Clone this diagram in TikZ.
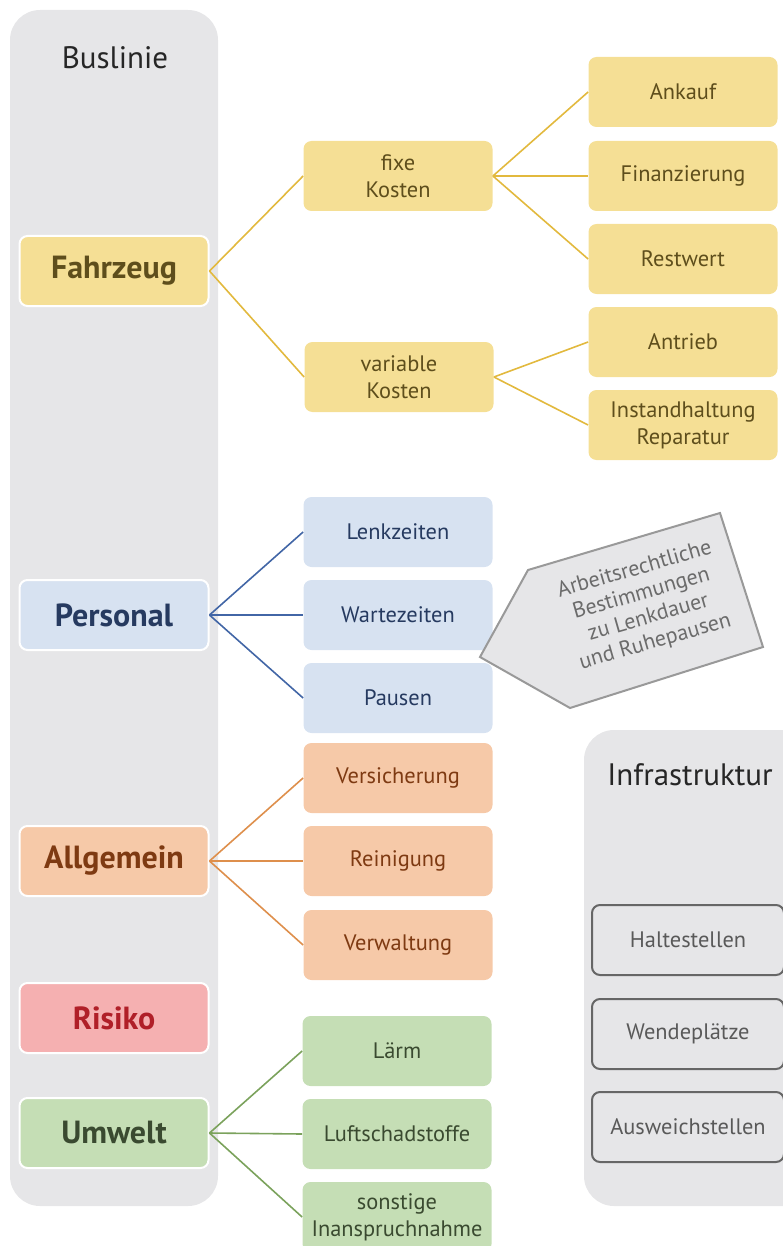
\documentclass[tikz,border=0pt]{standalone}
\usepackage{fontspec}
\setmainfont{PT Sans}
\definecolor{panel}{HTML}{E6E6E8}
\definecolor{ylwF}{HTML}{F5DF95}
\definecolor{ylwL}{HTML}{E2B93E}
\definecolor{ylwT}{HTML}{5E4E1C}
\definecolor{bluF}{HTML}{D7E2F1}
\definecolor{bluL}{HTML}{4266A6}
\definecolor{bluT}{HTML}{263A60}
\definecolor{orgF}{HTML}{F6C9A8}
\definecolor{orgL}{HTML}{DE8F4C}
\definecolor{orgT}{HTML}{7E3A12}
\definecolor{redF}{HTML}{F5B0B1}
\definecolor{redT}{HTML}{B01F28}
\definecolor{grnF}{HTML}{C5DEB5}
\definecolor{grnL}{HTML}{7BA25C}
\definecolor{grnT}{HTML}{3A4A30}
\tikzset{ box/.style = { rectangle
                       , rounded corners = 4pt
                       , minimum width   = 94.5pt
                       , minimum height  = 35pt
                       , inner sep       = 1pt
                       , align           = center
                       , font            = \fontsize{11.2}{13.5}\selectfont
                       },
          head/.style = { box
                        , draw       = white
                        , line width = 1pt
                        , font       = \bfseries\fontsize{16}{18}\selectfont
                        },
          infra/.style = { box
                         , minimum width = 96pt
                         , draw          = black!60
                         , line width    = 1pt
                         , fill          = panel
                         , text          = black!65
                         }
        }

\begin{document}
\begin{tikzpicture}[x=0.5pt, y=-0.5pt]
    \useasboundingbox (0,0) rectangle (782,1246);
    % panels
    \fill[panel, rounded corners=15pt] (10,10) rectangle (218,1206);
    \fill[panel, rounded corners=15pt] (584,730) rectangle (820,1206);
    \node[font=\fontsize{15.5}{17}\selectfont, text=black!85] (bl) at (115,58) {Buslinie};
    \node[font=\fontsize{15.5}{17}\selectfont, text=black!85] (ifr) at (690,775) {Infrastruktur};

    % Fahrzeug
    \node[head, fill=ylwF, text=ylwT] (fz) at (114,271) {Fahrzeug};
    \node[box, fill=ylwF, text=ylwT] (fk) at (398,176) {fixe\\Kosten};
    \node[box, fill=ylwF, text=ylwT] (vk) at (399,377) {variable\\Kosten};
    \node[box, fill=ylwF, text=ylwT] (an) at (683,92)  {Ankauf};
    \node[box, fill=ylwF, text=ylwT] (fi) at (683,176) {Finanzierung};
    \node[box, fill=ylwF, text=ylwT] (rw) at (683,259) {Restwert};
    \node[box, fill=ylwF, text=ylwT] (ab) at (683,342) {Antrieb};
    \node[box, fill=ylwF, text=ylwT] (ih) at (683,425) {Instandhaltung\\Reparatur};
    \foreach \c in {fk,vk} \draw[ylwL, line width=0.8pt] (fz.east) -- (\c.west);
    \foreach \c in {an,fi,rw} \draw[ylwL, line width=0.8pt] (fk.east) -- (\c.west);
    \foreach \c in {ab,ih} \draw[ylwL, line width=0.8pt] (vk.east) -- (\c.west);

    % Personal
    \node[head, fill=bluF, text=bluT] (ps) at (114,615) {Personal};
    \node[box, fill=bluF, text=bluT] (lz) at (398,532) {Lenkzeiten};
    \node[box, fill=bluF, text=bluT] (wz) at (398,615) {Wartezeiten};
    \node[box, fill=bluF, text=bluT] (pa) at (398,698) {Pausen};
    \foreach \c in {lz,wz,pa} \draw[bluL, line width=0.8pt] (ps.east) -- (\c.west);

    % Hinweis
    \draw[fill=panel, draw=black!40, line width=1pt]
        (480,657) -- (528,570) -- (720,513) -- (763,647) -- (570,708) -- cycle;
    \node[rotate=16, align=center, text=black!58, font=\fontsize{11}{12.5}\selectfont]
        (hw) at (645,606) {Arbeitsrechtliche\\Bestimmungen\\zu Lenkdauer\\und Ruhepausen};

    % Allgemein
    \node[head, fill=orgF, text=orgT] (ag) at (114,861) {Allgemein};
    \node[box, fill=orgF, text=orgT] (vs) at (398,778) {Versicherung};
    \node[box, fill=orgF, text=orgT] (rg) at (398,861) {Reinigung};
    \node[box, fill=orgF, text=orgT] (vw) at (398,945) {Verwaltung};
    \foreach \c in {vs,rg,vw} \draw[orgL, line width=0.8pt] (ag.east) -- (\c.west);

    % Risiko
    \node[head, fill=redF, text=redT] (rk) at (114,1018) {Risiko};

    % Umwelt
    \node[head, fill=grnF, text=grnT] (uw) at (114,1133) {Umwelt};
    \node[box, fill=grnF, text=grnT] (lm) at (397,1051) {Lärm};
    \node[box, fill=grnF, text=grnT] (ls) at (397,1134) {Luftschadstoffe};
    \node[box, fill=grnF, text=grnT] (si) at (397,1217) {sonstige\\Inanspruchnahme};
    \foreach \c in {lm,ls,si} \draw[grnL, line width=0.8pt] (uw.east) -- (\c.west);

    % Infrastruktur
    \node[infra] (hs) at (688,940)  {Haltestellen};
    \node[infra] (wp) at (688,1034) {Wendeplätze};
    \node[infra] (as) at (688,1127) {Ausweichstellen};
\end{tikzpicture}
\end{document}
